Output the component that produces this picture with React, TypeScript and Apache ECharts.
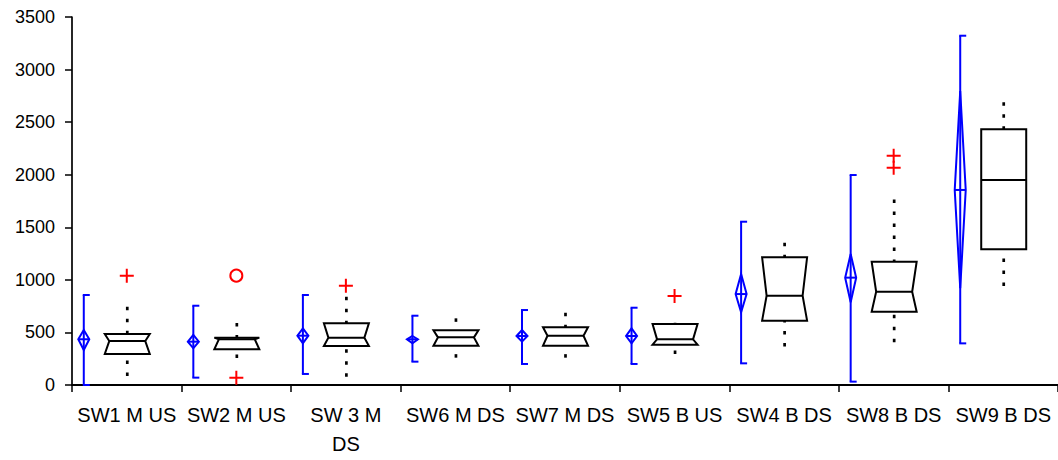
import React, { useEffect, useRef } from "react";
import * as echarts from "echarts";

const categories = [
  "SW1 M US",
  "SW2 M US",
  "SW 3 M DS",
  "SW6 M DS",
  "SW7 M DS",
  "SW5 B US",
  "SW4 B DS",
  "SW8 B DS",
  "SW9 B DS",
];

// Blue: range bars with mean diamonds (confidence interval)
const rangeLow = [0, 70, 105, 222, 200, 200, 206, 32, 396];
const rangeHigh = [856, 754, 856, 659, 713, 735, 1553, 1997, 3322];
const ciLow = [333, 349, 396, 396, 412, 396, 691, 787, 920];
const meanVal = [435, 412, 469, 435, 466, 466, 865, 1021, 1855];
const ciHigh = [523, 476, 539, 466, 523, 539, 1056, 1246, 2796];

// Black: notched box plots
const whiskerLow = [86, 257, 79, 260, 260, 295, 365, 406, 941];
const q1 = [295, 339, 371, 374, 374, 384, 612, 697, 1290];
const median = [418, 434, 450, 453, 469, 434, 849, 887, 1950];
const q3 = [485, 450, 587, 520, 549, 580, 1214, 1173, 2432];
const whiskerHigh = [745, 590, 840, 634, 688, 592, 1353, 1765, 2689];
const notched = [1, 1, 1, 1, 1, 1, 1, 1, 0];

// Outliers
const plusOutliers = [
  [0, 1040],
  [1, 70],
  [2, 945],
  [5, 846],
  [7, 2181],
  [7, 2067],
];
const circleOutliers = [[1, 1040]];

const yTicks = { min: 0, max: 3500, interval: 500 };

const FONT = "'Liberation Sans', Arial, Helvetica, sans-serif";
const BLUE = "#0000ff";
const RED = "#ff0000";

const blueData = categories.map((_, i) => [
  i,
  rangeLow[i],
  rangeHigh[i],
  ciLow[i],
  meanVal[i],
  ciHigh[i],
]);

const boxData = categories.map((_, i) => [
  i,
  whiskerLow[i],
  q1[i],
  median[i],
  q3[i],
  whiskerHigh[i],
  notched[i],
]);

const PLUS = "path://M6,0h2v6h6v2h-6v6h-2v-6h-6v-2h6z";

export default function App() {
  const ref = useRef<HTMLDivElement>(null);

  useEffect(() => {
    if (!ref.current) return;
    const chart = echarts.init(ref.current, null, { renderer: "svg" });

    const option: any = {
      animation: false,
      backgroundColor: "#ffffff",
      grid: { left: 72, right: -4, top: 17, bottom: 75, containLabel: false },
      xAxis: {
        type: "category",
        data: categories,
        boundaryGap: true,
        axisLine: { show: true, lineStyle: { color: "#000", width: 2 } },
        axisTick: { show: true, interval: 0, length: 7, lineStyle: { color: "#000", width: 1.5 } },
        axisLabel: {
          interval: 0,
          color: "#000",
          fontFamily: FONT,
          fontSize: 20,
          margin: 15,
          lineHeight: 29,
          formatter: (v: string) => (v.length > 8 ? v.replace(/ (\S+)$/, "\n$1") : v),
        },
        splitLine: { show: false },
      },
      yAxis: {
        type: "value",
        min: yTicks.min,
        max: yTicks.max,
        interval: yTicks.interval,
        axisLine: { show: true, lineStyle: { color: "#000", width: 1.7 } },
        axisTick: { show: true, length: 7, lineStyle: { color: "#000", width: 1.5 } },
        axisLabel: {
          color: "#000",
          fontFamily: FONT,
          fontSize: 18,
          margin: 17,
          formatter: (v: number) => String(v),
        },
        splitLine: { show: false },
      },
      series: [
        {
          type: "custom",
          name: "range",
          data: blueData,
          encode: { x: 0, y: [1, 2, 3, 4, 5] },
          renderItem: (params: any, api: any) => {
            const idx = api.value(0);
            const [cx0, yLo] = api.coord([idx, api.value(1)]);
            const yHi = api.coord([idx, api.value(2)])[1];
            const yCiLo = api.coord([idx, api.value(3)])[1];
            const yMean = api.coord([idx, api.value(4)])[1];
            const yCiHi = api.coord([idx, api.value(5)])[1];
            const x = cx0 - 43;
            const w = 5.5;
            const stroke = { stroke: BLUE, lineWidth: 2, fill: "none" };
            return {
              type: "group",
              children: [
                { type: "line", shape: { x1: x, y1: yLo, x2: x, y2: yHi }, style: stroke },
                { type: "line", shape: { x1: x - 1, y1: yHi, x2: x + 6, y2: yHi }, style: stroke },
                { type: "line", shape: { x1: x - 1, y1: yLo, x2: x + 6, y2: yLo }, style: stroke },
                {
                  type: "polygon",
                  shape: {
                    points: [
                      [x, yCiHi],
                      [x + w, yMean],
                      [x, yCiLo],
                      [x - w, yMean],
                    ],
                  },
                  style: stroke,
                },
                { type: "line", shape: { x1: x - w, y1: yMean, x2: x + w, y2: yMean }, style: stroke },
              ],
            };
          },
          z: 3,
        },
        {
          type: "custom",
          name: "box",
          data: boxData,
          encode: { x: 0, y: [1, 2, 3, 4, 5] },
          renderItem: (params: any, api: any) => {
            const idx = api.value(0);
            const [cx0, yWl] = api.coord([idx, api.value(1)]);
            const yQ1 = api.coord([idx, api.value(2)])[1];
            const yMed = api.coord([idx, api.value(3)])[1];
            const yQ3 = api.coord([idx, api.value(4)])[1];
            const yWh = api.coord([idx, api.value(5)])[1];
            const ind = api.value(6) ? 4.5 : 0;
            const cx = cx0 + 0.5;
            const h = 22.5;
            const boxStyle = { stroke: "#000", lineWidth: 2, fill: "none", lineJoin: "miter" };
            const dash = { stroke: "#000", lineWidth: 2.7, lineDash: [3.5, 8.5], lineCap: "butt" };
            return {
              type: "group",
              children: [
                { type: "line", shape: { x1: cx, y1: yWh, x2: cx, y2: yQ3 }, style: dash },
                { type: "line", shape: { x1: cx, y1: yWl, x2: cx, y2: yQ1 }, style: dash },
                {
                  type: "polygon",
                  shape: {
                    points: [
                      [cx - h, yQ3],
                      [cx + h, yQ3],
                      [cx + h - ind, yMed],
                      [cx + h, yQ1],
                      [cx - h, yQ1],
                      [cx - h + ind, yMed],
                    ],
                  },
                  style: boxStyle,
                },
                {
                  type: "line",
                  shape: { x1: cx - h + ind, y1: yMed, x2: cx + h - ind, y2: yMed },
                  style: { stroke: "#000", lineWidth: 2 },
                },
              ],
            };
          },
          z: 3,
        },
        {
          type: "scatter",
          name: "outlier+",
          data: plusOutliers,
          symbol: PLUS,
          symbolSize: 14,
          itemStyle: { color: RED, opacity: 1 },
          z: 4,
        },
        {
          type: "scatter",
          name: "outlierO",
          data: circleOutliers,
          symbol: "emptyCircle",
          symbolSize: 12,
          itemStyle: { color: RED, borderColor: RED, borderWidth: 2, opacity: 1 },
          z: 4,
        },
      ],
    };

    chart.setOption(option);
    return () => chart.dispose();
  }, []);

  return (
    <div
      ref={ref}
      style={{ position: "fixed", left: 0, top: 0, width: 1058, height: 460, background: "#fff" }}
    />
  );
}
